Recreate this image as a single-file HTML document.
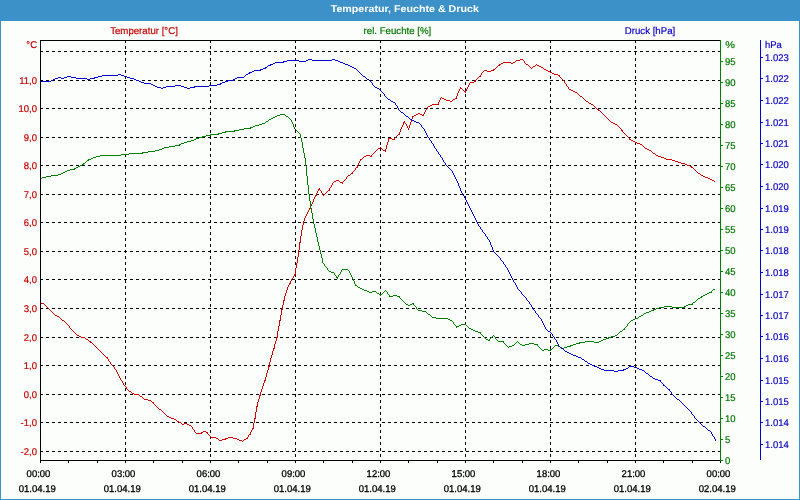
<!DOCTYPE html>
<html><head><meta charset="utf-8"><title>Temperatur, Feuchte &amp; Druck</title>
<style>
html,body{margin:0;padding:0;background:#fcfefb;}
body{width:800px;height:500px;overflow:hidden;position:relative;font-family:"Liberation Sans",sans-serif;}
#frame{position:absolute;left:0;top:20px;width:800px;height:480px;box-sizing:border-box;border:1px solid #3c92c8;background:#fcfefb;}
#title{position:absolute;left:0;top:0;width:800px;height:20px;background:#3c92c8;color:#fff;font-weight:bold;font-size:11px;line-height:20px;text-align:center;}
svg{position:absolute;left:0;top:0;}
.k text{stroke-width:0.3px;}
text{font-family:"Liberation Sans",sans-serif;stroke-width:0.2px;paint-order:stroke;text-rendering:geometricPrecision;}
</style></head><body>
<div id="frame"></div>
<div id="title"></div>
<svg width="800" height="500" viewBox="0 0 800 500">
<g shape-rendering="crispEdges" fill="none" stroke-width="1">

<g stroke="#000" stroke-dasharray="3 3">
<line x1="40" y1="51.5" x2="720" y2="51.5"/>
<line x1="40" y1="80.5" x2="720" y2="80.5"/>
<line x1="40" y1="108.5" x2="720" y2="108.5"/>
<line x1="40" y1="137.5" x2="720" y2="137.5"/>
<line x1="40" y1="165.5" x2="720" y2="165.5"/>
<line x1="40" y1="194.5" x2="720" y2="194.5"/>
<line x1="40" y1="222.5" x2="720" y2="222.5"/>
<line x1="40" y1="251.5" x2="720" y2="251.5"/>
<line x1="40" y1="279.5" x2="720" y2="279.5"/>
<line x1="40" y1="308.5" x2="720" y2="308.5"/>
<line x1="40" y1="337.5" x2="720" y2="337.5"/>
<line x1="40" y1="365.5" x2="720" y2="365.5"/>
<line x1="40" y1="394.5" x2="720" y2="394.5"/>
<line x1="40" y1="422.5" x2="720" y2="422.5"/>
<line x1="40" y1="451.5" x2="720" y2="451.5"/>
<line x1="125.5" y1="40" x2="125.5" y2="460"/>
<line x1="210.5" y1="40" x2="210.5" y2="460"/>
<line x1="295.5" y1="40" x2="295.5" y2="460"/>
<line x1="380.5" y1="40" x2="380.5" y2="460"/>
<line x1="465.5" y1="40" x2="465.5" y2="460"/>
<line x1="550.5" y1="40" x2="550.5" y2="460"/>
<line x1="635.5" y1="40" x2="635.5" y2="460"/>
</g>
<path stroke="none" fill="#d00000" d="M520 59h3v1h-3zM516 60h4v1h-4zM523 60h1v1h-1zM515 61h1v1h-1zM524 61h1v1h-1zM503 62h8v1h-8zM513 62h2v1h-2zM524 62h1v1h-1zM501 63h2v1h-2zM511 63h2v1h-2zM525 63h1v1h-1zM499 64h2v1h-2zM526 64h2v1h-2zM536 64h1v1h-1zM498 65h2v1h-2zM528 65h1v1h-1zM535 65h1v1h-1zM537 65h2v1h-2zM497 66h1v1h-1zM529 66h1v1h-1zM533 66h2v1h-2zM539 66h2v1h-2zM496 67h1v1h-1zM530 67h1v1h-1zM532 67h1v1h-1zM541 67h2v1h-2zM495 68h1v1h-1zM531 68h1v1h-1zM543 68h1v1h-1zM493 69h2v1h-2zM544 69h2v1h-2zM484 70h3v1h-3zM491 70h3v1h-3zM546 70h2v1h-2zM483 71h1v1h-1zM487 71h4v1h-4zM548 71h2v1h-2zM482 72h1v1h-1zM550 72h2v1h-2zM481 73h1v1h-1zM552 73h2v1h-2zM481 74h1v1h-1zM554 74h4v1h-4zM480 75h1v1h-1zM558 75h2v1h-2zM479 76h2v1h-2zM559 76h1v1h-1zM478 77h1v1h-1zM560 77h1v1h-1zM477 78h1v1h-1zM561 78h1v1h-1zM476 79h1v1h-1zM562 79h1v1h-1zM475 80h1v1h-1zM563 80h1v1h-1zM474 81h2v1h-2zM564 81h1v1h-1zM470 82h4v1h-4zM564 82h1v1h-1zM469 83h1v1h-1zM565 83h1v1h-1zM469 84h1v1h-1zM566 84h1v1h-1zM468 85h1v1h-1zM566 85h1v1h-1zM468 86h1v1h-1zM567 86h1v1h-1zM460 87h1v1h-1zM467 87h1v1h-1zM568 87h1v1h-1zM460 88h2v1h-2zM467 88h1v1h-1zM568 88h1v1h-1zM459 89h1v1h-1zM462 89h1v1h-1zM466 89h1v1h-1zM569 89h2v1h-2zM459 90h1v1h-1zM463 90h1v1h-1zM466 90h1v1h-1zM571 90h2v1h-2zM458 91h1v1h-1zM464 91h2v1h-2zM573 91h2v1h-2zM458 92h1v1h-1zM465 92h1v1h-1zM575 92h2v1h-2zM457 93h1v1h-1zM577 93h1v1h-1zM457 94h1v1h-1zM578 94h1v1h-1zM457 95h1v1h-1zM579 95h1v1h-1zM456 96h1v1h-1zM580 96h2v1h-2zM441 97h1v1h-1zM456 97h1v1h-1zM582 97h1v1h-1zM440 98h1v1h-1zM442 98h2v1h-2zM455 98h2v1h-2zM583 98h1v1h-1zM440 99h1v1h-1zM444 99h2v1h-2zM453 99h2v1h-2zM584 99h1v1h-1zM439 100h1v1h-1zM446 100h4v1h-4zM452 100h1v1h-1zM585 100h1v1h-1zM439 101h1v1h-1zM450 101h2v1h-2zM586 101h2v1h-2zM438 102h1v1h-1zM588 102h1v1h-1zM438 103h1v1h-1zM589 103h2v1h-2zM432 104h7v1h-7zM591 104h2v1h-2zM430 105h2v1h-2zM593 105h1v1h-1zM428 106h2v1h-2zM594 106h1v1h-1zM427 107h1v1h-1zM595 107h1v1h-1zM427 108h1v1h-1zM596 108h1v1h-1zM426 109h1v1h-1zM597 109h2v1h-2zM425 110h1v1h-1zM598 110h2v1h-2zM425 111h1v1h-1zM600 111h1v1h-1zM424 112h1v1h-1zM601 112h1v1h-1zM418 113h2v1h-2zM424 113h1v1h-1zM602 113h1v1h-1zM416 114h2v1h-2zM420 114h2v1h-2zM423 114h1v1h-1zM603 114h1v1h-1zM414 115h2v1h-2zM422 115h2v1h-2zM604 115h1v1h-1zM412 116h2v1h-2zM605 116h1v1h-1zM412 117h1v1h-1zM606 117h1v1h-1zM412 118h1v1h-1zM607 118h1v1h-1zM411 119h1v1h-1zM608 119h1v1h-1zM411 120h1v1h-1zM609 120h1v1h-1zM404 121h1v1h-1zM411 121h1v1h-1zM610 121h1v1h-1zM403 122h2v1h-2zM410 122h1v1h-1zM611 122h2v1h-2zM403 123h1v1h-1zM405 123h1v1h-1zM410 123h1v1h-1zM613 123h2v1h-2zM403 124h1v1h-1zM406 124h1v1h-1zM410 124h1v1h-1zM615 124h2v1h-2zM402 125h1v1h-1zM406 125h1v1h-1zM409 125h1v1h-1zM617 125h1v1h-1zM402 126h1v1h-1zM407 126h1v1h-1zM409 126h1v1h-1zM618 126h1v1h-1zM401 127h1v1h-1zM407 127h1v1h-1zM409 127h1v1h-1zM619 127h1v1h-1zM401 128h1v1h-1zM408 128h1v1h-1zM620 128h1v1h-1zM400 129h1v1h-1zM408 129h1v1h-1zM621 129h1v1h-1zM400 130h1v1h-1zM621 130h2v1h-2zM400 131h1v1h-1zM622 131h1v1h-1zM399 132h1v1h-1zM623 132h1v1h-1zM399 133h1v1h-1zM624 133h1v1h-1zM398 134h2v1h-2zM625 134h1v1h-1zM397 135h1v1h-1zM626 135h1v1h-1zM396 136h1v1h-1zM627 136h1v1h-1zM395 137h1v1h-1zM628 137h1v1h-1zM388 138h4v1h-4zM394 138h1v1h-1zM629 138h1v1h-1zM388 139h1v1h-1zM392 139h3v1h-3zM629 139h2v1h-2zM388 140h1v1h-1zM631 140h2v1h-2zM388 141h1v1h-1zM633 141h2v1h-2zM387 142h1v1h-1zM635 142h2v1h-2zM387 143h1v1h-1zM637 143h3v1h-3zM387 144h1v1h-1zM640 144h2v1h-2zM386 145h1v1h-1zM642 145h1v1h-1zM386 146h1v1h-1zM643 146h1v1h-1zM380 147h1v1h-1zM386 147h1v1h-1zM644 147h1v1h-1zM378 148h2v1h-2zM381 148h1v1h-1zM386 148h1v1h-1zM645 148h2v1h-2zM377 149h1v1h-1zM382 149h1v1h-1zM385 149h1v1h-1zM647 149h2v1h-2zM376 150h1v1h-1zM383 150h3v1h-3zM649 150h2v1h-2zM375 151h1v1h-1zM385 151h1v1h-1zM651 151h1v1h-1zM374 152h1v1h-1zM652 152h1v1h-1zM373 153h1v1h-1zM653 153h2v1h-2zM372 154h1v1h-1zM655 154h1v1h-1zM366 155h4v1h-4zM371 155h1v1h-1zM656 155h2v1h-2zM364 156h2v1h-2zM370 156h2v1h-2zM658 156h3v1h-3zM363 157h1v1h-1zM661 157h3v1h-3zM362 158h1v1h-1zM664 158h2v1h-2zM360 159h2v1h-2zM666 159h6v1h-6zM360 160h1v1h-1zM672 160h3v1h-3zM359 161h1v1h-1zM675 161h3v1h-3zM359 162h1v1h-1zM678 162h3v1h-3zM358 163h1v1h-1zM681 163h4v1h-4zM358 164h1v1h-1zM685 164h2v1h-2zM357 165h1v1h-1zM687 165h3v1h-3zM357 166h1v1h-1zM690 166h2v1h-2zM356 167h2v1h-2zM691 167h2v1h-2zM355 168h1v1h-1zM693 168h1v1h-1zM355 169h1v1h-1zM694 169h1v1h-1zM354 170h1v1h-1zM695 170h1v1h-1zM353 171h1v1h-1zM696 171h1v1h-1zM352 172h1v1h-1zM697 172h1v1h-1zM351 173h2v1h-2zM698 173h2v1h-2zM350 174h1v1h-1zM700 174h1v1h-1zM348 175h2v1h-2zM701 175h2v1h-2zM347 176h1v1h-1zM703 176h2v1h-2zM346 177h1v1h-1zM705 177h3v1h-3zM346 178h1v1h-1zM708 178h2v1h-2zM345 179h1v1h-1zM710 179h2v1h-2zM336 180h3v1h-3zM344 180h1v1h-1zM712 180h2v1h-2zM334 181h2v1h-2zM339 181h1v1h-1zM343 181h1v1h-1zM714 181h1v1h-1zM333 182h1v1h-1zM340 182h3v1h-3zM332 183h1v1h-1zM342 183h1v1h-1zM332 184h1v1h-1zM331 185h1v1h-1zM331 186h1v1h-1zM330 187h1v1h-1zM319 188h1v1h-1zM329 188h1v1h-1zM318 189h2v1h-2zM329 189h1v1h-1zM318 190h1v1h-1zM320 190h1v1h-1zM328 190h2v1h-2zM317 191h1v1h-1zM321 191h1v1h-1zM327 191h1v1h-1zM317 192h1v1h-1zM321 192h1v1h-1zM326 192h1v1h-1zM316 193h1v1h-1zM322 193h1v1h-1zM325 193h1v1h-1zM316 194h1v1h-1zM322 194h1v1h-1zM324 194h1v1h-1zM315 195h2v1h-2zM323 195h1v1h-1zM315 196h1v1h-1zM314 197h1v1h-1zM314 198h1v1h-1zM313 199h1v1h-1zM313 200h1v1h-1zM313 201h1v1h-1zM312 202h1v1h-1zM312 203h1v1h-1zM311 204h1v1h-1zM311 205h1v1h-1zM310 206h1v1h-1zM310 207h1v1h-1zM309 208h2v1h-2zM309 209h1v1h-1zM308 210h1v1h-1zM308 211h1v1h-1zM307 212h1v1h-1zM307 213h1v1h-1zM306 214h1v1h-1zM306 215h1v1h-1zM305 216h1v1h-1zM305 217h1v1h-1zM304 218h1v1h-1zM304 219h1v1h-1zM304 220h1v1h-1zM303 221h1v1h-1zM303 222h1v1h-1zM303 223h1v1h-1zM303 224h1v1h-1zM302 225h1v1h-1zM302 226h1v1h-1zM302 227h1v1h-1zM302 228h1v1h-1zM302 229h1v1h-1zM301 230h1v1h-1zM301 231h1v1h-1zM301 232h1v1h-1zM301 233h1v1h-1zM301 234h1v1h-1zM301 235h1v1h-1zM300 236h1v1h-1zM300 237h1v1h-1zM300 238h1v1h-1zM300 239h1v1h-1zM300 240h1v1h-1zM300 241h1v1h-1zM299 242h2v1h-2zM299 243h1v1h-1zM299 244h1v1h-1zM299 245h1v1h-1zM299 246h1v1h-1zM299 247h1v1h-1zM299 248h1v1h-1zM299 249h1v1h-1zM298 250h1v1h-1zM298 251h1v1h-1zM298 252h1v1h-1zM298 253h1v1h-1zM298 254h1v1h-1zM298 255h1v1h-1zM298 256h1v1h-1zM297 257h1v1h-1zM297 258h1v1h-1zM297 259h1v1h-1zM297 260h1v1h-1zM297 261h1v1h-1zM297 262h1v1h-1zM296 263h1v1h-1zM296 264h1v1h-1zM296 265h1v1h-1zM296 266h1v1h-1zM296 267h1v1h-1zM295 268h1v1h-1zM295 269h1v1h-1zM295 270h1v1h-1zM295 271h1v1h-1zM295 272h1v1h-1zM295 273h1v1h-1zM294 274h2v1h-2zM294 275h1v1h-1zM293 276h1v1h-1zM293 277h1v1h-1zM292 278h1v1h-1zM291 279h1v1h-1zM291 280h1v1h-1zM290 281h1v1h-1zM290 282h1v1h-1zM289 283h2v1h-2zM289 284h1v1h-1zM288 285h1v1h-1zM288 286h1v1h-1zM287 287h1v1h-1zM287 288h1v1h-1zM287 289h1v1h-1zM286 290h1v1h-1zM286 291h1v1h-1zM286 292h1v1h-1zM285 293h1v1h-1zM285 294h1v1h-1zM285 295h1v1h-1zM284 296h1v1h-1zM284 297h1v1h-1zM284 298h1v1h-1zM284 299h1v1h-1zM283 300h2v1h-2zM283 301h1v1h-1zM283 302h1v1h-1zM40 303h4v1h-4zM283 303h1v1h-1zM44 304h1v1h-1zM283 304h1v1h-1zM45 305h1v1h-1zM282 305h1v1h-1zM46 306h1v1h-1zM282 306h1v1h-1zM47 307h1v1h-1zM282 307h1v1h-1zM48 308h1v1h-1zM282 308h1v1h-1zM49 309h1v1h-1zM281 309h2v1h-2zM50 310h1v1h-1zM281 310h1v1h-1zM51 311h1v1h-1zM281 311h1v1h-1zM52 312h1v1h-1zM281 312h1v1h-1zM53 313h1v1h-1zM281 313h1v1h-1zM54 314h1v1h-1zM281 314h1v1h-1zM55 315h2v1h-2zM280 315h1v1h-1zM57 316h2v1h-2zM280 316h1v1h-1zM59 317h1v1h-1zM280 317h1v1h-1zM60 318h1v1h-1zM280 318h1v1h-1zM61 319h1v1h-1zM280 319h1v1h-1zM62 320h2v1h-2zM279 320h2v1h-2zM64 321h1v1h-1zM279 321h1v1h-1zM65 322h1v1h-1zM279 322h1v1h-1zM66 323h1v1h-1zM279 323h1v1h-1zM67 324h1v1h-1zM279 324h1v1h-1zM68 325h1v1h-1zM279 325h1v1h-1zM69 326h1v1h-1zM278 326h1v1h-1zM69 327h1v1h-1zM278 327h1v1h-1zM70 328h1v1h-1zM278 328h1v1h-1zM71 329h1v1h-1zM278 329h1v1h-1zM72 330h1v1h-1zM278 330h1v1h-1zM73 331h1v1h-1zM277 331h1v1h-1zM74 332h1v1h-1zM277 332h1v1h-1zM75 333h1v1h-1zM277 333h1v1h-1zM76 334h1v1h-1zM277 334h1v1h-1zM77 335h2v1h-2zM277 335h1v1h-1zM79 336h2v1h-2zM277 336h1v1h-1zM81 337h4v1h-4zM276 337h2v1h-2zM85 338h1v1h-1zM276 338h1v1h-1zM86 339h2v1h-2zM276 339h1v1h-1zM88 340h1v1h-1zM276 340h1v1h-1zM89 341h2v1h-2zM275 341h1v1h-1zM90 342h2v1h-2zM275 342h1v1h-1zM92 343h1v1h-1zM275 343h1v1h-1zM93 344h1v1h-1zM274 344h1v1h-1zM94 345h1v1h-1zM274 345h1v1h-1zM95 346h1v1h-1zM274 346h1v1h-1zM96 347h1v1h-1zM274 347h1v1h-1zM97 348h1v1h-1zM273 348h2v1h-2zM98 349h1v1h-1zM273 349h1v1h-1zM99 350h1v1h-1zM273 350h1v1h-1zM100 351h1v1h-1zM272 351h1v1h-1zM101 352h1v1h-1zM272 352h1v1h-1zM102 353h1v1h-1zM272 353h1v1h-1zM103 354h1v1h-1zM272 354h1v1h-1zM104 355h1v1h-1zM271 355h1v1h-1zM105 356h1v1h-1zM271 356h1v1h-1zM106 357h2v1h-2zM271 357h1v1h-1zM107 358h1v1h-1zM270 358h1v1h-1zM108 359h1v1h-1zM270 359h1v1h-1zM108 360h1v1h-1zM270 360h1v1h-1zM109 361h1v1h-1zM270 361h1v1h-1zM110 362h1v1h-1zM269 362h1v1h-1zM110 363h1v1h-1zM269 363h1v1h-1zM111 364h1v1h-1zM269 364h1v1h-1zM112 365h1v1h-1zM269 365h1v1h-1zM113 366h1v1h-1zM268 366h2v1h-2zM114 367h1v1h-1zM268 367h1v1h-1zM114 368h1v1h-1zM268 368h1v1h-1zM115 369h1v1h-1zM268 369h1v1h-1zM116 370h1v1h-1zM267 370h1v1h-1zM116 371h1v1h-1zM267 371h1v1h-1zM117 372h1v1h-1zM267 372h1v1h-1zM117 373h1v1h-1zM266 373h1v1h-1zM118 374h1v1h-1zM266 374h1v1h-1zM118 375h1v1h-1zM266 375h1v1h-1zM119 376h1v1h-1zM266 376h1v1h-1zM119 377h1v1h-1zM265 377h1v1h-1zM120 378h1v1h-1zM265 378h1v1h-1zM120 379h1v1h-1zM265 379h1v1h-1zM121 380h1v1h-1zM264 380h2v1h-2zM122 381h1v1h-1zM264 381h1v1h-1zM122 382h1v1h-1zM264 382h1v1h-1zM123 383h1v1h-1zM263 383h1v1h-1zM123 384h1v1h-1zM263 384h1v1h-1zM124 385h1v1h-1zM263 385h1v1h-1zM125 386h1v1h-1zM262 386h1v1h-1zM126 387h1v1h-1zM262 387h1v1h-1zM126 388h1v1h-1zM262 388h1v1h-1zM127 389h1v1h-1zM261 389h1v1h-1zM128 390h1v1h-1zM261 390h1v1h-1zM129 391h2v1h-2zM261 391h1v1h-1zM131 392h1v1h-1zM260 392h1v1h-1zM132 393h2v1h-2zM260 393h1v1h-1zM134 394h5v1h-5zM260 394h1v1h-1zM139 395h1v1h-1zM259 395h2v1h-2zM140 396h2v1h-2zM259 396h1v1h-1zM142 397h1v1h-1zM259 397h1v1h-1zM143 398h1v1h-1zM259 398h1v1h-1zM144 399h4v1h-4zM258 399h1v1h-1zM148 400h3v1h-3zM258 400h1v1h-1zM151 401h1v1h-1zM258 401h1v1h-1zM152 402h2v1h-2zM257 402h1v1h-1zM153 403h1v1h-1zM257 403h1v1h-1zM154 404h1v1h-1zM257 404h1v1h-1zM155 405h1v1h-1zM257 405h1v1h-1zM156 406h1v1h-1zM256 406h2v1h-2zM157 407h1v1h-1zM256 407h1v1h-1zM158 408h1v1h-1zM256 408h1v1h-1zM159 409h2v1h-2zM256 409h1v1h-1zM161 410h1v1h-1zM256 410h1v1h-1zM162 411h1v1h-1zM256 411h1v1h-1zM163 412h1v1h-1zM255 412h1v1h-1zM164 413h1v1h-1zM255 413h1v1h-1zM165 414h1v1h-1zM255 414h1v1h-1zM166 415h1v1h-1zM255 415h1v1h-1zM167 416h2v1h-2zM255 416h1v1h-1zM169 417h2v1h-2zM255 417h1v1h-1zM171 418h3v1h-3zM254 418h2v1h-2zM174 419h2v1h-2zM254 419h1v1h-1zM176 420h1v1h-1zM254 420h1v1h-1zM177 421h2v1h-2zM254 421h1v1h-1zM179 422h2v1h-2zM254 422h1v1h-1zM181 423h1v1h-1zM184 423h3v1h-3zM253 423h1v1h-1zM182 424h2v1h-2zM187 424h2v1h-2zM253 424h1v1h-1zM189 425h2v1h-2zM253 425h1v1h-1zM191 426h1v1h-1zM253 426h1v1h-1zM192 427h1v1h-1zM253 427h1v1h-1zM192 428h1v1h-1zM252 428h2v1h-2zM193 429h1v1h-1zM252 429h1v1h-1zM194 430h1v1h-1zM251 430h1v1h-1zM194 431h1v1h-1zM203 431h3v1h-3zM251 431h1v1h-1zM195 432h1v1h-1zM201 432h2v1h-2zM206 432h2v1h-2zM250 432h1v1h-1zM196 433h6v1h-6zM207 433h1v1h-1zM250 433h1v1h-1zM208 434h1v1h-1zM249 434h2v1h-2zM209 435h1v1h-1zM248 435h1v1h-1zM210 436h1v1h-1zM248 436h1v1h-1zM211 437h5v1h-5zM228 437h5v1h-5zM247 437h1v1h-1zM216 438h2v1h-2zM225 438h3v1h-3zM233 438h4v1h-4zM246 438h2v1h-2zM218 439h1v1h-1zM222 439h4v1h-4zM237 439h2v1h-2zM244 439h2v1h-2zM219 440h3v1h-3zM239 440h3v1h-3zM243 440h1v1h-1zM242 441h1v1h-1z"/>
<path stroke="none" fill="#008000" d="M280 114h5v1h-5zM277 115h3v1h-3zM285 115h1v1h-1zM275 116h2v1h-2zM286 116h2v1h-2zM273 117h2v1h-2zM288 117h1v1h-1zM271 118h2v1h-2zM289 118h1v1h-1zM269 119h2v1h-2zM290 119h1v1h-1zM268 120h1v1h-1zM291 120h1v1h-1zM266 121h2v1h-2zM291 121h1v1h-1zM265 122h1v1h-1zM292 122h1v1h-1zM262 123h3v1h-3zM292 123h1v1h-1zM259 124h3v1h-3zM293 124h1v1h-1zM255 125h4v1h-4zM293 125h1v1h-1zM253 126h2v1h-2zM293 126h1v1h-1zM250 127h3v1h-3zM294 127h1v1h-1zM244 128h7v1h-7zM294 128h1v1h-1zM239 129h5v1h-5zM295 129h1v1h-1zM234 130h5v1h-5zM296 130h1v1h-1zM225 131h10v1h-10zM297 131h1v1h-1zM222 132h4v1h-4zM298 132h1v1h-1zM218 133h4v1h-4zM299 133h1v1h-1zM210 134h9v1h-9zM300 134h1v1h-1zM206 135h5v1h-5zM300 135h1v1h-1zM202 136h4v1h-4zM300 136h1v1h-1zM199 137h4v1h-4zM300 137h1v1h-1zM196 138h3v1h-3zM301 138h1v1h-1zM194 139h2v1h-2zM301 139h1v1h-1zM191 140h3v1h-3zM301 140h1v1h-1zM187 141h4v1h-4zM301 141h1v1h-1zM184 142h3v1h-3zM302 142h1v1h-1zM181 143h3v1h-3zM302 143h1v1h-1zM179 144h2v1h-2zM302 144h1v1h-1zM175 145h5v1h-5zM302 145h1v1h-1zM169 146h6v1h-6zM302 146h1v1h-1zM164 147h5v1h-5zM302 147h1v1h-1zM162 148h2v1h-2zM303 148h1v1h-1zM159 149h3v1h-3zM303 149h1v1h-1zM155 150h4v1h-4zM303 150h1v1h-1zM148 151h7v1h-7zM303 151h1v1h-1zM142 152h6v1h-6zM303 152h1v1h-1zM129 153h14v1h-14zM304 153h1v1h-1zM121 154h8v1h-8zM304 154h1v1h-1zM100 155h21v1h-21zM304 155h1v1h-1zM96 156h4v1h-4zM304 156h1v1h-1zM93 157h3v1h-3zM304 157h1v1h-1zM91 158h2v1h-2zM305 158h1v1h-1zM88 159h3v1h-3zM305 159h1v1h-1zM87 160h2v1h-2zM305 160h1v1h-1zM86 161h1v1h-1zM305 161h1v1h-1zM85 162h1v1h-1zM305 162h1v1h-1zM83 163h2v1h-2zM305 163h1v1h-1zM82 164h2v1h-2zM305 164h1v1h-1zM80 165h2v1h-2zM305 165h1v1h-1zM78 166h2v1h-2zM306 166h1v1h-1zM76 167h2v1h-2zM306 167h1v1h-1zM74 168h2v1h-2zM306 168h1v1h-1zM70 169h5v1h-5zM306 169h1v1h-1zM67 170h3v1h-3zM306 170h1v1h-1zM65 171h2v1h-2zM306 171h1v1h-1zM63 172h2v1h-2zM306 172h1v1h-1zM61 173h2v1h-2zM306 173h1v1h-1zM58 174h3v1h-3zM306 174h1v1h-1zM51 175h7v1h-7zM306 175h1v1h-1zM46 176h5v1h-5zM307 176h1v1h-1zM42 177h4v1h-4zM307 177h1v1h-1zM40 178h2v1h-2zM307 178h1v1h-1zM307 179h1v1h-1zM307 180h1v1h-1zM307 181h1v1h-1zM307 182h1v1h-1zM307 183h1v1h-1zM307 184h1v1h-1zM308 185h1v1h-1zM308 186h1v1h-1zM308 187h1v1h-1zM308 188h1v1h-1zM308 189h1v1h-1zM308 190h1v1h-1zM308 191h1v1h-1zM308 192h1v1h-1zM308 193h1v1h-1zM309 194h1v1h-1zM309 195h1v1h-1zM309 196h1v1h-1zM309 197h1v1h-1zM309 198h1v1h-1zM309 199h1v1h-1zM309 200h1v1h-1zM310 201h1v1h-1zM310 202h1v1h-1zM310 203h1v1h-1zM310 204h1v1h-1zM310 205h1v1h-1zM310 206h1v1h-1zM310 207h1v1h-1zM311 208h1v1h-1zM311 209h1v1h-1zM311 210h1v1h-1zM311 211h1v1h-1zM311 212h1v1h-1zM312 213h1v1h-1zM312 214h1v1h-1zM312 215h1v1h-1zM312 216h1v1h-1zM312 217h1v1h-1zM312 218h1v1h-1zM313 219h1v1h-1zM313 220h1v1h-1zM313 221h1v1h-1zM313 222h1v1h-1zM313 223h1v1h-1zM314 224h1v1h-1zM314 225h1v1h-1zM314 226h1v1h-1zM314 227h1v1h-1zM315 228h1v1h-1zM315 229h1v1h-1zM315 230h1v1h-1zM315 231h1v1h-1zM315 232h1v1h-1zM316 233h1v1h-1zM316 234h1v1h-1zM316 235h1v1h-1zM316 236h1v1h-1zM317 237h1v1h-1zM317 238h1v1h-1zM317 239h1v1h-1zM317 240h1v1h-1zM317 241h1v1h-1zM318 242h1v1h-1zM318 243h1v1h-1zM318 244h1v1h-1zM318 245h1v1h-1zM319 246h1v1h-1zM319 247h1v1h-1zM319 248h1v1h-1zM319 249h1v1h-1zM320 250h1v1h-1zM320 251h1v1h-1zM320 252h1v1h-1zM320 253h1v1h-1zM321 254h1v1h-1zM321 255h1v1h-1zM321 256h1v1h-1zM321 257h1v1h-1zM322 258h1v1h-1zM322 259h1v1h-1zM322 260h1v1h-1zM322 261h1v1h-1zM322 262h1v1h-1zM323 263h1v1h-1zM324 264h1v1h-1zM324 265h1v1h-1zM325 266h1v1h-1zM326 267h1v1h-1zM327 268h1v1h-1zM327 269h1v1h-1zM342 269h6v1h-6zM328 270h1v1h-1zM341 270h1v1h-1zM348 270h1v1h-1zM329 271h2v1h-2zM341 271h1v1h-1zM349 271h1v1h-1zM331 272h3v1h-3zM340 272h1v1h-1zM349 272h1v1h-1zM334 273h1v1h-1zM340 273h1v1h-1zM350 273h1v1h-1zM334 274h1v1h-1zM339 274h1v1h-1zM350 274h1v1h-1zM335 275h1v1h-1zM338 275h1v1h-1zM351 275h1v1h-1zM336 276h1v1h-1zM338 276h1v1h-1zM351 276h1v1h-1zM336 277h2v1h-2zM352 277h1v1h-1zM337 278h1v1h-1zM352 278h1v1h-1zM353 279h1v1h-1zM353 280h1v1h-1zM354 281h1v1h-1zM354 282h1v1h-1zM354 283h1v1h-1zM355 284h1v1h-1zM355 285h2v1h-2zM357 286h1v1h-1zM358 287h2v1h-2zM360 288h2v1h-2zM362 289h2v1h-2zM713 289h2v1h-2zM364 290h3v1h-3zM385 290h1v1h-1zM712 290h1v1h-1zM367 291h2v1h-2zM372 291h4v1h-4zM384 291h1v1h-1zM386 291h1v1h-1zM711 291h1v1h-1zM369 292h3v1h-3zM376 292h1v1h-1zM383 292h1v1h-1zM387 292h1v1h-1zM709 292h3v1h-3zM377 293h2v1h-2zM382 293h1v1h-1zM387 293h1v1h-1zM707 293h2v1h-2zM379 294h3v1h-3zM388 294h1v1h-1zM705 294h2v1h-2zM380 295h1v1h-1zM389 295h1v1h-1zM393 295h4v1h-4zM703 295h2v1h-2zM389 296h4v1h-4zM397 296h3v1h-3zM701 296h2v1h-2zM399 297h1v1h-1zM700 297h2v1h-2zM400 298h1v1h-1zM698 298h2v1h-2zM401 299h1v1h-1zM697 299h1v1h-1zM402 300h1v1h-1zM696 300h1v1h-1zM403 301h1v1h-1zM695 301h1v1h-1zM404 302h1v1h-1zM693 302h2v1h-2zM405 303h1v1h-1zM412 303h2v1h-2zM692 303h1v1h-1zM406 304h2v1h-2zM410 304h2v1h-2zM413 304h1v1h-1zM688 304h5v1h-5zM408 305h2v1h-2zM414 305h1v1h-1zM686 305h2v1h-2zM415 306h1v1h-1zM664 306h8v1h-8zM684 306h2v1h-2zM416 307h1v1h-1zM659 307h5v1h-5zM672 307h13v1h-13zM416 308h1v1h-1zM656 308h3v1h-3zM417 309h1v1h-1zM653 309h3v1h-3zM418 310h4v1h-4zM651 310h3v1h-3zM422 311h4v1h-4zM649 311h2v1h-2zM426 312h1v1h-1zM646 312h3v1h-3zM427 313h1v1h-1zM644 313h2v1h-2zM428 314h2v1h-2zM643 314h1v1h-1zM430 315h1v1h-1zM641 315h2v1h-2zM431 316h1v1h-1zM639 316h2v1h-2zM432 317h4v1h-4zM638 317h1v1h-1zM436 318h12v1h-12zM635 318h3v1h-3zM448 319h2v1h-2zM633 319h2v1h-2zM450 320h2v1h-2zM631 320h2v1h-2zM452 321h1v1h-1zM630 321h1v1h-1zM453 322h1v1h-1zM629 322h1v1h-1zM453 323h1v1h-1zM628 323h1v1h-1zM454 324h1v1h-1zM461 324h5v1h-5zM627 324h1v1h-1zM455 325h1v1h-1zM459 325h2v1h-2zM466 325h1v1h-1zM627 325h1v1h-1zM456 326h3v1h-3zM467 326h1v1h-1zM626 326h1v1h-1zM456 327h1v1h-1zM468 327h1v1h-1zM625 327h1v1h-1zM469 328h2v1h-2zM624 328h1v1h-1zM471 329h2v1h-2zM623 329h2v1h-2zM473 330h2v1h-2zM622 330h1v1h-1zM475 331h3v1h-3zM620 331h2v1h-2zM478 332h3v1h-3zM619 332h1v1h-1zM480 333h1v1h-1zM618 333h1v1h-1zM481 334h1v1h-1zM617 334h1v1h-1zM482 335h1v1h-1zM493 335h1v1h-1zM615 335h2v1h-2zM483 336h1v1h-1zM492 336h1v1h-1zM494 336h1v1h-1zM611 336h4v1h-4zM484 337h1v1h-1zM491 337h1v1h-1zM495 337h1v1h-1zM608 337h3v1h-3zM485 338h1v1h-1zM490 338h1v1h-1zM495 338h1v1h-1zM606 338h3v1h-3zM486 339h2v1h-2zM489 339h1v1h-1zM496 339h1v1h-1zM603 339h3v1h-3zM488 340h2v1h-2zM497 340h1v1h-1zM601 340h2v1h-2zM498 341h6v1h-6zM517 341h1v1h-1zM585 341h9v1h-9zM599 341h2v1h-2zM503 342h1v1h-1zM516 342h1v1h-1zM518 342h1v1h-1zM579 342h6v1h-6zM594 342h5v1h-5zM504 343h1v1h-1zM515 343h1v1h-1zM519 343h1v1h-1zM529 343h5v1h-5zM576 343h4v1h-4zM505 344h1v1h-1zM514 344h1v1h-1zM520 344h2v1h-2zM525 344h4v1h-4zM534 344h4v1h-4zM573 344h3v1h-3zM506 345h1v1h-1zM512 345h2v1h-2zM522 345h3v1h-3zM537 345h1v1h-1zM555 345h3v1h-3zM570 345h3v1h-3zM507 346h1v1h-1zM509 346h3v1h-3zM538 346h1v1h-1zM554 346h1v1h-1zM558 346h2v1h-2zM567 346h4v1h-4zM508 347h1v1h-1zM539 347h1v1h-1zM553 347h1v1h-1zM560 347h2v1h-2zM564 347h3v1h-3zM540 348h1v1h-1zM552 348h1v1h-1zM562 348h2v1h-2zM541 349h1v1h-1zM544 349h4v1h-4zM550 349h2v1h-2zM542 350h2v1h-2zM548 350h3v1h-3z"/>
<path stroke="none" fill="#0000d0" d="M308 59h4v1h-4zM332 59h3v1h-3zM287 60h12v1h-12zM306 60h2v1h-2zM312 60h20v1h-20zM335 60h3v1h-3zM283 61h4v1h-4zM299 61h7v1h-7zM338 61h2v1h-2zM275 62h9v1h-9zM340 62h3v1h-3zM273 63h2v1h-2zM343 63h2v1h-2zM270 64h3v1h-3zM345 64h3v1h-3zM268 65h3v1h-3zM348 65h2v1h-2zM267 66h1v1h-1zM350 66h2v1h-2zM265 67h2v1h-2zM352 67h2v1h-2zM263 68h3v1h-3zM354 68h2v1h-2zM260 69h3v1h-3zM356 69h1v1h-1zM254 70h7v1h-7zM357 70h1v1h-1zM252 71h2v1h-2zM358 71h1v1h-1zM249 72h3v1h-3zM359 72h1v1h-1zM248 73h2v1h-2zM360 73h1v1h-1zM118 74h3v1h-3zM246 74h2v1h-2zM361 74h1v1h-1zM102 75h16v1h-16zM121 75h3v1h-3zM245 75h1v1h-1zM362 75h1v1h-1zM67 76h4v1h-4zM98 76h4v1h-4zM124 76h3v1h-3zM244 76h1v1h-1zM363 76h2v1h-2zM58 77h3v1h-3zM64 77h3v1h-3zM71 77h5v1h-5zM94 77h4v1h-4zM127 77h3v1h-3zM237 77h7v1h-7zM365 77h1v1h-1zM55 78h3v1h-3zM61 78h3v1h-3zM76 78h11v1h-11zM90 78h5v1h-5zM130 78h4v1h-4zM235 78h2v1h-2zM366 78h1v1h-1zM53 79h2v1h-2zM87 79h3v1h-3zM134 79h2v1h-2zM233 79h2v1h-2zM367 79h2v1h-2zM51 80h2v1h-2zM136 80h3v1h-3zM227 80h7v1h-7zM369 80h1v1h-1zM40 81h11v1h-11zM139 81h2v1h-2zM225 81h3v1h-3zM370 81h1v1h-1zM141 82h3v1h-3zM222 82h3v1h-3zM371 82h1v1h-1zM144 83h7v1h-7zM220 83h2v1h-2zM372 83h1v1h-1zM151 84h2v1h-2zM217 84h4v1h-4zM372 84h1v1h-1zM153 85h2v1h-2zM175 85h6v1h-6zM209 85h8v1h-8zM373 85h1v1h-1zM155 86h2v1h-2zM166 86h9v1h-9zM181 86h3v1h-3zM194 86h15v1h-15zM374 86h1v1h-1zM157 87h4v1h-4zM163 87h3v1h-3zM184 87h3v1h-3zM190 87h5v1h-5zM375 87h2v1h-2zM161 88h2v1h-2zM187 88h3v1h-3zM377 88h2v1h-2zM379 89h2v1h-2zM380 90h1v1h-1zM381 91h1v1h-1zM382 92h1v1h-1zM383 93h1v1h-1zM384 94h1v1h-1zM384 95h1v1h-1zM385 96h1v1h-1zM386 97h1v1h-1zM387 98h1v1h-1zM388 99h2v1h-2zM390 100h1v1h-1zM391 101h2v1h-2zM393 102h2v1h-2zM395 103h1v1h-1zM395 104h1v1h-1zM396 105h1v1h-1zM397 106h1v1h-1zM397 107h1v1h-1zM398 108h1v1h-1zM398 109h1v1h-1zM399 110h1v1h-1zM400 111h1v1h-1zM401 112h2v1h-2zM403 113h1v1h-1zM404 114h1v1h-1zM405 115h1v1h-1zM406 116h2v1h-2zM408 117h1v1h-1zM409 118h1v1h-1zM410 119h2v1h-2zM412 120h2v1h-2zM414 121h2v1h-2zM416 122h3v1h-3zM419 123h1v1h-1zM420 124h1v1h-1zM421 125h1v1h-1zM421 126h1v1h-1zM422 127h1v1h-1zM423 128h1v1h-1zM424 129h1v1h-1zM424 130h1v1h-1zM425 131h1v1h-1zM425 132h1v1h-1zM426 133h1v1h-1zM426 134h1v1h-1zM427 135h1v1h-1zM427 136h1v1h-1zM428 137h1v1h-1zM429 138h1v1h-1zM429 139h1v1h-1zM430 140h1v1h-1zM431 141h1v1h-1zM431 142h1v1h-1zM432 143h1v1h-1zM433 144h1v1h-1zM433 145h1v1h-1zM434 146h1v1h-1zM434 147h1v1h-1zM435 148h1v1h-1zM436 149h1v1h-1zM436 150h1v1h-1zM437 151h1v1h-1zM438 152h1v1h-1zM438 153h1v1h-1zM439 154h1v1h-1zM440 155h1v1h-1zM440 156h1v1h-1zM441 157h1v1h-1zM442 158h1v1h-1zM442 159h1v1h-1zM443 160h1v1h-1zM443 161h1v1h-1zM444 162h1v1h-1zM445 163h1v1h-1zM445 164h1v1h-1zM446 165h1v1h-1zM447 166h1v1h-1zM448 167h1v1h-1zM449 168h1v1h-1zM450 169h1v1h-1zM451 170h1v1h-1zM452 171h1v1h-1zM452 172h1v1h-1zM453 173h1v1h-1zM453 174h1v1h-1zM454 175h1v1h-1zM454 176h1v1h-1zM455 177h1v1h-1zM455 178h1v1h-1zM456 179h1v1h-1zM456 180h1v1h-1zM457 181h1v1h-1zM457 182h1v1h-1zM458 183h1v1h-1zM458 184h1v1h-1zM458 185h1v1h-1zM459 186h1v1h-1zM459 187h1v1h-1zM460 188h1v1h-1zM460 189h1v1h-1zM460 190h1v1h-1zM461 191h1v1h-1zM461 192h1v1h-1zM462 193h1v1h-1zM463 194h1v1h-1zM463 195h1v1h-1zM464 196h1v1h-1zM464 197h1v1h-1zM465 198h1v1h-1zM465 199h1v1h-1zM466 200h1v1h-1zM466 201h1v1h-1zM467 202h1v1h-1zM467 203h1v1h-1zM468 204h1v1h-1zM468 205h1v1h-1zM469 206h1v1h-1zM469 207h1v1h-1zM470 208h1v1h-1zM470 209h1v1h-1zM471 210h1v1h-1zM471 211h1v1h-1zM472 212h1v1h-1zM472 213h1v1h-1zM473 214h1v1h-1zM473 215h1v1h-1zM474 216h1v1h-1zM474 217h1v1h-1zM475 218h1v1h-1zM475 219h1v1h-1zM476 220h1v1h-1zM476 221h1v1h-1zM477 222h1v1h-1zM477 223h1v1h-1zM478 224h1v1h-1zM478 225h1v1h-1zM479 226h1v1h-1zM480 227h1v1h-1zM480 228h1v1h-1zM481 229h1v1h-1zM482 230h1v1h-1zM482 231h1v1h-1zM483 232h1v1h-1zM484 233h1v1h-1zM485 234h1v1h-1zM485 235h1v1h-1zM486 236h1v1h-1zM487 237h1v1h-1zM487 238h1v1h-1zM488 239h1v1h-1zM489 240h1v1h-1zM489 241h1v1h-1zM490 242h1v1h-1zM490 243h1v1h-1zM490 244h1v1h-1zM491 245h1v1h-1zM491 246h1v1h-1zM492 247h1v1h-1zM492 248h1v1h-1zM492 249h1v1h-1zM493 250h1v1h-1zM493 251h1v1h-1zM494 252h1v1h-1zM495 253h1v1h-1zM496 254h1v1h-1zM497 255h1v1h-1zM498 256h1v1h-1zM499 257h1v1h-1zM500 258h1v1h-1zM500 259h1v1h-1zM501 260h1v1h-1zM502 261h1v1h-1zM503 262h1v1h-1zM503 263h1v1h-1zM504 264h1v1h-1zM505 265h1v1h-1zM505 266h1v1h-1zM506 267h1v1h-1zM507 268h1v1h-1zM507 269h1v1h-1zM508 270h1v1h-1zM508 271h1v1h-1zM509 272h1v1h-1zM509 273h1v1h-1zM510 274h1v1h-1zM510 275h1v1h-1zM511 276h1v1h-1zM511 277h1v1h-1zM512 278h1v1h-1zM512 279h1v1h-1zM513 280h1v1h-1zM513 281h1v1h-1zM514 282h1v1h-1zM515 283h1v1h-1zM515 284h1v1h-1zM516 285h1v1h-1zM516 286h1v1h-1zM517 287h1v1h-1zM517 288h1v1h-1zM518 289h1v1h-1zM519 290h1v1h-1zM520 291h1v1h-1zM521 292h1v1h-1zM521 293h1v1h-1zM522 294h1v1h-1zM523 295h1v1h-1zM524 296h1v1h-1zM525 297h1v1h-1zM526 298h1v1h-1zM526 299h1v1h-1zM527 300h1v1h-1zM528 301h1v1h-1zM529 302h1v1h-1zM529 303h1v1h-1zM530 304h1v1h-1zM531 305h1v1h-1zM531 306h1v1h-1zM532 307h1v1h-1zM533 308h1v1h-1zM533 309h1v1h-1zM534 310h1v1h-1zM535 311h1v1h-1zM535 312h1v1h-1zM536 313h1v1h-1zM537 314h1v1h-1zM538 315h1v1h-1zM538 316h1v1h-1zM539 317h1v1h-1zM540 318h1v1h-1zM541 319h1v1h-1zM541 320h1v1h-1zM542 321h1v1h-1zM542 322h1v1h-1zM543 323h1v1h-1zM543 324h1v1h-1zM544 325h1v1h-1zM544 326h1v1h-1zM545 327h1v1h-1zM545 328h1v1h-1zM546 329h1v1h-1zM547 330h1v1h-1zM548 331h2v1h-2zM550 332h1v1h-1zM551 333h1v1h-1zM552 334h1v1h-1zM552 335h1v1h-1zM553 336h1v1h-1zM554 337h1v1h-1zM554 338h1v1h-1zM555 339h1v1h-1zM556 340h1v1h-1zM556 341h1v1h-1zM557 342h1v1h-1zM557 343h1v1h-1zM558 344h1v1h-1zM558 345h1v1h-1zM559 346h1v1h-1zM560 347h1v1h-1zM561 348h2v1h-2zM563 349h1v1h-1zM564 350h1v1h-1zM565 351h2v1h-2zM567 352h2v1h-2zM569 353h2v1h-2zM571 354h2v1h-2zM573 355h3v1h-3zM576 356h2v1h-2zM578 357h3v1h-3zM581 358h1v1h-1zM582 359h2v1h-2zM584 360h1v1h-1zM585 361h2v1h-2zM587 362h1v1h-1zM588 363h2v1h-2zM590 364h2v1h-2zM592 365h2v1h-2zM594 366h3v1h-3zM629 366h5v1h-5zM597 367h2v1h-2zM628 367h1v1h-1zM634 367h3v1h-3zM599 368h2v1h-2zM626 368h2v1h-2zM637 368h2v1h-2zM601 369h3v1h-3zM623 369h3v1h-3zM639 369h3v1h-3zM604 370h10v1h-10zM618 370h6v1h-6zM642 370h2v1h-2zM614 371h4v1h-4zM644 371h1v1h-1zM645 372h1v1h-1zM646 373h2v1h-2zM648 374h1v1h-1zM649 375h1v1h-1zM650 376h2v1h-2zM652 377h1v1h-1zM653 378h2v1h-2zM655 379h3v1h-3zM658 380h3v1h-3zM660 381h1v1h-1zM661 382h1v1h-1zM662 383h1v1h-1zM663 384h1v1h-1zM663 385h2v1h-2zM665 386h1v1h-1zM666 387h1v1h-1zM667 388h1v1h-1zM668 389h2v1h-2zM669 390h1v1h-1zM670 391h1v1h-1zM671 392h1v1h-1zM671 393h1v1h-1zM672 394h1v1h-1zM673 395h1v1h-1zM674 396h1v1h-1zM675 397h1v1h-1zM676 398h1v1h-1zM677 399h2v1h-2zM679 400h1v1h-1zM680 401h1v1h-1zM681 402h1v1h-1zM682 403h1v1h-1zM683 404h1v1h-1zM684 405h1v1h-1zM685 406h1v1h-1zM686 407h1v1h-1zM687 408h1v1h-1zM688 409h1v1h-1zM689 410h1v1h-1zM690 411h1v1h-1zM691 412h1v1h-1zM691 413h1v1h-1zM692 414h1v1h-1zM693 415h1v1h-1zM694 416h1v1h-1zM694 417h1v1h-1zM695 418h1v1h-1zM696 419h1v1h-1zM697 420h1v1h-1zM698 421h1v1h-1zM699 422h1v1h-1zM700 423h1v1h-1zM701 424h1v1h-1zM702 425h1v1h-1zM703 426h2v1h-2zM705 427h1v1h-1zM706 428h1v1h-1zM707 429h1v1h-1zM708 430h2v1h-2zM710 431h1v1h-1zM711 432h1v1h-1zM711 433h1v1h-1zM712 434h1v1h-1zM712 435h1v1h-1zM713 436h1v1h-1zM714 437h1v1h-1zM714 438h1v1h-1zM715 439h1v1h-1zM715 440h1v1h-1z"/>
<g stroke="#000">
<line x1="40" y1="40.5" x2="720" y2="40.5"/>
<line x1="40.5" y1="40" x2="40.5" y2="461"/>
<line x1="40" y1="460.5" x2="721" y2="460.5"/>
<line x1="40.5" y1="460" x2="40.5" y2="463"/>
<line x1="68.5" y1="460" x2="68.5" y2="463"/>
<line x1="97.5" y1="460" x2="97.5" y2="463"/>
<line x1="125.5" y1="460" x2="125.5" y2="463"/>
<line x1="153.5" y1="460" x2="153.5" y2="463"/>
<line x1="182.5" y1="460" x2="182.5" y2="463"/>
<line x1="210.5" y1="460" x2="210.5" y2="463"/>
<line x1="238.5" y1="460" x2="238.5" y2="463"/>
<line x1="267.5" y1="460" x2="267.5" y2="463"/>
<line x1="295.5" y1="460" x2="295.5" y2="463"/>
<line x1="323.5" y1="460" x2="323.5" y2="463"/>
<line x1="352.5" y1="460" x2="352.5" y2="463"/>
<line x1="380.5" y1="460" x2="380.5" y2="463"/>
<line x1="408.5" y1="460" x2="408.5" y2="463"/>
<line x1="437.5" y1="460" x2="437.5" y2="463"/>
<line x1="465.5" y1="460" x2="465.5" y2="463"/>
<line x1="493.5" y1="460" x2="493.5" y2="463"/>
<line x1="522.5" y1="460" x2="522.5" y2="463"/>
<line x1="550.5" y1="460" x2="550.5" y2="463"/>
<line x1="578.5" y1="460" x2="578.5" y2="463"/>
<line x1="607.5" y1="460" x2="607.5" y2="463"/>
<line x1="635.5" y1="460" x2="635.5" y2="463"/>
<line x1="663.5" y1="460" x2="663.5" y2="463"/>
<line x1="692.5" y1="460" x2="692.5" y2="463"/>
<line x1="720.5" y1="460" x2="720.5" y2="463"/>
</g>
<g stroke="#008000">
<line x1="720.5" y1="40" x2="720.5" y2="460"/>
<line x1="720" y1="460.5" x2="723" y2="460.5"/>
<line x1="720" y1="439.5" x2="723" y2="439.5"/>
<line x1="720" y1="418.5" x2="723" y2="418.5"/>
<line x1="720" y1="397.5" x2="723" y2="397.5"/>
<line x1="720" y1="376.5" x2="723" y2="376.5"/>
<line x1="720" y1="355.5" x2="723" y2="355.5"/>
<line x1="720" y1="334.5" x2="723" y2="334.5"/>
<line x1="720" y1="313.5" x2="723" y2="313.5"/>
<line x1="720" y1="292.5" x2="723" y2="292.5"/>
<line x1="720" y1="271.5" x2="723" y2="271.5"/>
<line x1="720" y1="250.5" x2="723" y2="250.5"/>
<line x1="720" y1="229.5" x2="723" y2="229.5"/>
<line x1="720" y1="208.5" x2="723" y2="208.5"/>
<line x1="720" y1="187.5" x2="723" y2="187.5"/>
<line x1="720" y1="166.5" x2="723" y2="166.5"/>
<line x1="720" y1="145.5" x2="723" y2="145.5"/>
<line x1="720" y1="124.5" x2="723" y2="124.5"/>
<line x1="720" y1="103.5" x2="723" y2="103.5"/>
<line x1="720" y1="82.5" x2="723" y2="82.5"/>
<line x1="720" y1="61.5" x2="723" y2="61.5"/>
</g>
<g stroke="#0000d0">
<line x1="760.5" y1="40" x2="760.5" y2="460"/>
<line x1="760" y1="444.5" x2="763" y2="444.5"/>
<line x1="760" y1="422.5" x2="763" y2="422.5"/>
<line x1="760" y1="401.5" x2="763" y2="401.5"/>
<line x1="760" y1="380.5" x2="763" y2="380.5"/>
<line x1="760" y1="358.5" x2="763" y2="358.5"/>
<line x1="760" y1="336.5" x2="763" y2="336.5"/>
<line x1="760" y1="315.5" x2="763" y2="315.5"/>
<line x1="760" y1="294.5" x2="763" y2="294.5"/>
<line x1="760" y1="272.5" x2="763" y2="272.5"/>
<line x1="760" y1="250.5" x2="763" y2="250.5"/>
<line x1="760" y1="229.5" x2="763" y2="229.5"/>
<line x1="760" y1="208.5" x2="763" y2="208.5"/>
<line x1="760" y1="186.5" x2="763" y2="186.5"/>
<line x1="760" y1="164.5" x2="763" y2="164.5"/>
<line x1="760" y1="143.5" x2="763" y2="143.5"/>
<line x1="760" y1="122.5" x2="763" y2="122.5"/>
<line x1="760" y1="100.5" x2="763" y2="100.5"/>
<line x1="760" y1="78.5" x2="763" y2="78.5"/>
<line x1="760" y1="57.5" x2="763" y2="57.5"/>
</g>
</g>
<g fill="#c40000" stroke="#c40000">
<text transform="translate(37,48) scale(0.97,1)" text-anchor="end" font-size="9.8">°C</text>
<text transform="translate(37,84) scale(0.97,1)" text-anchor="end" font-size="9.8">11,0</text>
<text transform="translate(37,112) scale(0.97,1)" text-anchor="end" font-size="9.8">10,0</text>
<text transform="translate(37,141) scale(0.97,1)" text-anchor="end" font-size="9.8">9,0</text>
<text transform="translate(37,169) scale(0.97,1)" text-anchor="end" font-size="9.8">8,0</text>
<text transform="translate(37,198) scale(0.97,1)" text-anchor="end" font-size="9.8">7,0</text>
<text transform="translate(37,226) scale(0.97,1)" text-anchor="end" font-size="9.8">6,0</text>
<text transform="translate(37,255) scale(0.97,1)" text-anchor="end" font-size="9.8">5,0</text>
<text transform="translate(37,283) scale(0.97,1)" text-anchor="end" font-size="9.8">4,0</text>
<text transform="translate(37,312) scale(0.97,1)" text-anchor="end" font-size="9.8">3,0</text>
<text transform="translate(37,341) scale(0.97,1)" text-anchor="end" font-size="9.8">2,0</text>
<text transform="translate(37,369) scale(0.97,1)" text-anchor="end" font-size="9.8">1,0</text>
<text transform="translate(37,398) scale(0.97,1)" text-anchor="end" font-size="9.8">0,0</text>
<text transform="translate(37,426) scale(0.97,1)" text-anchor="end" font-size="9.8">-1,0</text>
<text transform="translate(37,455) scale(0.97,1)" text-anchor="end" font-size="9.8">-2,0</text>
</g>
<g fill="#007600" stroke="#007600">
<text transform="translate(725.3,48) scale(1.12,1)" text-anchor="start" font-size="9.8">%</text>
<text transform="translate(725,464) scale(0.97,1)" text-anchor="start" font-size="9.8">0</text>
<text transform="translate(725,443) scale(0.97,1)" text-anchor="start" font-size="9.8">5</text>
<text transform="translate(725,422) scale(0.97,1)" text-anchor="start" font-size="9.8">10</text>
<text transform="translate(725,401) scale(0.97,1)" text-anchor="start" font-size="9.8">15</text>
<text transform="translate(725,380) scale(0.97,1)" text-anchor="start" font-size="9.8">20</text>
<text transform="translate(725,359) scale(0.97,1)" text-anchor="start" font-size="9.8">25</text>
<text transform="translate(725,338) scale(0.97,1)" text-anchor="start" font-size="9.8">30</text>
<text transform="translate(725,317) scale(0.97,1)" text-anchor="start" font-size="9.8">35</text>
<text transform="translate(725,296) scale(0.97,1)" text-anchor="start" font-size="9.8">40</text>
<text transform="translate(725,275) scale(0.97,1)" text-anchor="start" font-size="9.8">45</text>
<text transform="translate(725,254) scale(0.97,1)" text-anchor="start" font-size="9.8">50</text>
<text transform="translate(725,233) scale(0.97,1)" text-anchor="start" font-size="9.8">55</text>
<text transform="translate(725,212) scale(0.97,1)" text-anchor="start" font-size="9.8">60</text>
<text transform="translate(725,191) scale(0.97,1)" text-anchor="start" font-size="9.8">65</text>
<text transform="translate(725,170) scale(0.97,1)" text-anchor="start" font-size="9.8">70</text>
<text transform="translate(725,149) scale(0.97,1)" text-anchor="start" font-size="9.8">75</text>
<text transform="translate(725,128) scale(0.97,1)" text-anchor="start" font-size="9.8">80</text>
<text transform="translate(725,107) scale(0.97,1)" text-anchor="start" font-size="9.8">85</text>
<text transform="translate(725,86) scale(0.97,1)" text-anchor="start" font-size="9.8">90</text>
<text transform="translate(725,65) scale(0.97,1)" text-anchor="start" font-size="9.8">95</text>
</g>
<g fill="#0a00c8" stroke="#0a00c8">
<text transform="translate(765,48) scale(0.97,1)" text-anchor="start" font-size="9.8">hPa</text>
<text transform="translate(765,448) scale(0.97,1)" text-anchor="start" font-size="9.8">1.014</text>
<text transform="translate(765,426) scale(0.97,1)" text-anchor="start" font-size="9.8">1.014</text>
<text transform="translate(765,405) scale(0.97,1)" text-anchor="start" font-size="9.8">1.015</text>
<text transform="translate(765,384) scale(0.97,1)" text-anchor="start" font-size="9.8">1.015</text>
<text transform="translate(765,362) scale(0.97,1)" text-anchor="start" font-size="9.8">1.016</text>
<text transform="translate(765,340) scale(0.97,1)" text-anchor="start" font-size="9.8">1.016</text>
<text transform="translate(765,319) scale(0.97,1)" text-anchor="start" font-size="9.8">1.017</text>
<text transform="translate(765,298) scale(0.97,1)" text-anchor="start" font-size="9.8">1.017</text>
<text transform="translate(765,276) scale(0.97,1)" text-anchor="start" font-size="9.8">1.018</text>
<text transform="translate(765,254) scale(0.97,1)" text-anchor="start" font-size="9.8">1.018</text>
<text transform="translate(765,233) scale(0.97,1)" text-anchor="start" font-size="9.8">1.019</text>
<text transform="translate(765,212) scale(0.97,1)" text-anchor="start" font-size="9.8">1.019</text>
<text transform="translate(765,190) scale(0.97,1)" text-anchor="start" font-size="9.8">1.020</text>
<text transform="translate(765,168) scale(0.97,1)" text-anchor="start" font-size="9.8">1.020</text>
<text transform="translate(765,147) scale(0.97,1)" text-anchor="start" font-size="9.8">1.021</text>
<text transform="translate(765,126) scale(0.97,1)" text-anchor="start" font-size="9.8">1.021</text>
<text transform="translate(765,104) scale(0.97,1)" text-anchor="start" font-size="9.8">1.022</text>
<text transform="translate(765,82) scale(0.97,1)" text-anchor="start" font-size="9.8">1.022</text>
<text transform="translate(765,61) scale(0.97,1)" text-anchor="start" font-size="9.8">1.023</text>
</g>
<g class="k" fill="#000" stroke="#000">
<text transform="translate(38.5,477) scale(0.97,1)" text-anchor="middle" font-size="9.8">00:00</text>
<text transform="translate(37.2,492) scale(0.97,1)" text-anchor="middle" font-size="9.8">01.04.19</text>
<text transform="translate(123.5,477) scale(0.97,1)" text-anchor="middle" font-size="9.8">03:00</text>
<text transform="translate(122.2,492) scale(0.97,1)" text-anchor="middle" font-size="9.8">01.04.19</text>
<text transform="translate(208.5,477) scale(0.97,1)" text-anchor="middle" font-size="9.8">06:00</text>
<text transform="translate(207.2,492) scale(0.97,1)" text-anchor="middle" font-size="9.8">01.04.19</text>
<text transform="translate(293.5,477) scale(0.97,1)" text-anchor="middle" font-size="9.8">09:00</text>
<text transform="translate(292.2,492) scale(0.97,1)" text-anchor="middle" font-size="9.8">01.04.19</text>
<text transform="translate(378.5,477) scale(0.97,1)" text-anchor="middle" font-size="9.8">12:00</text>
<text transform="translate(377.2,492) scale(0.97,1)" text-anchor="middle" font-size="9.8">01.04.19</text>
<text transform="translate(463.5,477) scale(0.97,1)" text-anchor="middle" font-size="9.8">15:00</text>
<text transform="translate(462.2,492) scale(0.97,1)" text-anchor="middle" font-size="9.8">01.04.19</text>
<text transform="translate(548.5,477) scale(0.97,1)" text-anchor="middle" font-size="9.8">18:00</text>
<text transform="translate(547.2,492) scale(0.97,1)" text-anchor="middle" font-size="9.8">01.04.19</text>
<text transform="translate(633.5,477) scale(0.97,1)" text-anchor="middle" font-size="9.8">21:00</text>
<text transform="translate(632.2,492) scale(0.97,1)" text-anchor="middle" font-size="9.8">01.04.19</text>
<text transform="translate(718.5,477) scale(0.97,1)" text-anchor="middle" font-size="9.8">00:00</text>
<text transform="translate(717.2,492) scale(0.97,1)" text-anchor="middle" font-size="9.8">02.04.19</text>
</g>
<text font-weight="bold" transform="translate(404.75,12) scale(1.09,1)" text-anchor="middle" font-size="9.8" fill="#fff" stroke="none">Temperatur, Feuchte &amp; Druck</text>
<text transform="translate(144,34) scale(0.985,1)" text-anchor="middle" font-size="9.8" fill="#c40000" stroke="#c40000">Temperatur [°C]</text>
<text transform="translate(397.4,34) scale(0.985,1)" text-anchor="middle" font-size="9.8" fill="#007600" stroke="#007600">rel. Feuchte [%]</text>
<text transform="translate(650,34) scale(0.985,1)" text-anchor="middle" font-size="9.8" fill="#0a00c8" stroke="#0a00c8">Druck [hPa]</text>
</svg></body></html>
